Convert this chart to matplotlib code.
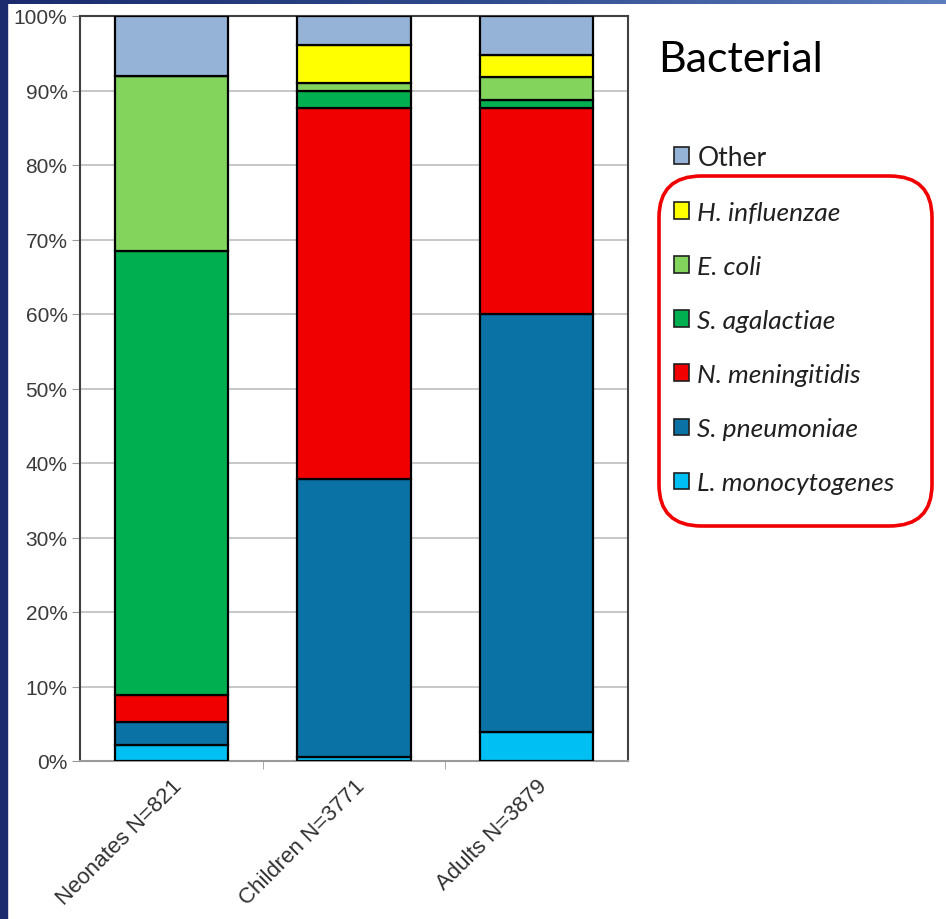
import numpy as np
import matplotlib
matplotlib.use('Agg')
import matplotlib.pyplot as plt
from matplotlib.patches import Rectangle, FancyBboxPatch, Patch
from matplotlib.colors import LinearSegmentedColormap

plt.rcParams['font.family'] = ['Lato', 'DejaVu Sans']

groups = ['Neonates N=821', 'Children N=3771', 'Adults N=3879']
# bottom to top stacking order
species = ['L. monocytogenes', 'S. pneumoniae', 'N. meningitidis', 'S. agalactiae',
           'E. coli', 'H. influenzae', 'Other']
l_mono = [2.2, 0.5, 3.9]
s_pneu = [3.1, 37.3, 56.1]
n_meni = [3.5, 49.8, 27.7]
s_agal = [59.7, 2.4, 1.0]
e_coli = [23.4, 1.0, 3.1]
h_infl = [0.0, 5.1, 2.9]
other = [8.1, 3.9, 5.3]
series = [l_mono, s_pneu, n_meni, s_agal, e_coli, h_infl, other]
colors = ['#00BFF3', '#0A72A4', '#F00000', '#00B050', '#82D45C', '#FFFF00', '#95B3D7']
yticks = [0, 10, 20, 30, 40, 50, 60, 70, 80, 90, 100]

W, H = 946, 920
fig = plt.figure(figsize=(W / 100, H / 100), dpi=100)
fig.patch.set_facecolor('white')

ax = fig.add_axes([80 / W, 1 - 762 / H, 548 / W, 745 / H])
x = np.arange(len(groups))
bottom = np.zeros(len(groups))
for vals, c in zip(series, colors):
    ax.bar(x, vals, width=0.62, bottom=bottom, color=c, edgecolor='black',
           linewidth=1.6, zorder=3)
    bottom += np.array(vals)

ax.set_xlim(-0.5, 2.5)
ax.set_ylim(0, 100)
ax.set_yticks(yticks)
ax.set_yticklabels([f'{v}%' for v in yticks], fontsize=15, color='#3a3a3a',
                   family=['Liberation Sans'])
ax.yaxis.grid(True, color='#BEBEBE', linewidth=1.2, zorder=0)
ax.tick_params(axis='y', length=6, color='#9a9a9a', pad=3)

ax.set_xticks(x)
ax.set_xticklabels(groups, rotation=45, ha='right', rotation_mode='anchor',
                   fontsize=16, color='#303030', family=['Liberation Sans'])
ax.tick_params(axis='x', length=0, pad=10)
ax.set_xticks([0.5, 1.5], minor=True)
ax.tick_params(axis='x', which='minor', length=6, color='#9a9a9a')

for s in ['left', 'top', 'right']:
    ax.spines[s].set_color('#404040')
    ax.spines[s].set_linewidth(1.5)
ax.spines['bottom'].set_color('#9a9a9a')
ax.spines['bottom'].set_linewidth(1.5)

# title
fig.text(658 / W, 1 - 60 / H, 'Bacterial', fontsize=31, color='black', va='center')

# legend
handles = [Patch(facecolor=c, edgecolor='#202020', linewidth=1.2) for c in colors][::-1]
labels = species[::-1]
leg = fig.legend(handles, labels, loc='upper left',
                 bbox_to_anchor=(663 / W, 1 - 135 / H), frameon=False,
                 fontsize=19, handlelength=0.6, handleheight=0.6,
                 handletextpad=0.3, labelspacing=1.18, borderaxespad=0)
for t in leg.get_texts():
    t.set_color('#202020')
    if t.get_text() != 'Other':
        t.set_fontstyle('italic')

# red rounded box around species
box = FancyBboxPatch((659 / W, 1 - 527 / H), 273 / W, 350 / H,
                     boxstyle='round,pad=0,rounding_size=0.045',
                     transform=fig.transFigure, fill=False,
                     edgecolor='#F00000', linewidth=2.6)
fig.add_artist(box)

# dark blue slide border
fig.add_artist(Rectangle((0, 0), 7 / W, 1, transform=fig.transFigure,
                         color='#1B2B6E', zorder=10))
gax = fig.add_axes([0, 1 - 5 / H, 1, 5 / H])
grad = np.linspace(0, 1, 256).reshape(1, -1)
cm = LinearSegmentedColormap.from_list('bar', ['#1B2B6E', '#2E4A8C', '#5C7DBE'])
gax.imshow(grad, aspect='auto', cmap=cm)
gax.axis('off')

fig.savefig('out.png', dpi=100)
